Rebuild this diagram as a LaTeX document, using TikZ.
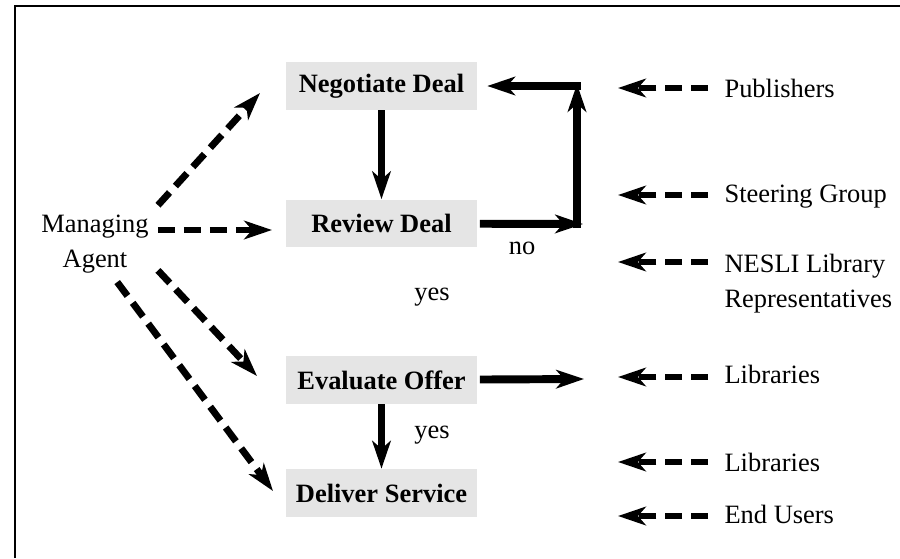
\documentclass[tikz,border=0pt]{standalone}
\usepackage{fontspec}
\setmainfont{Liberation Serif}
\usetikzlibrary{arrows.meta}

\tikzset{
  flow/.style={line width=3pt, -{Stealth[length=10.5pt,width=7pt,inset=3pt]}},
  feed/.style={line width=2.6pt, dash pattern=on 6.5pt off 3.3pt, -{Stealth[length=10.5pt,width=7pt,inset=3pt]}},
  back/.style={feed, shorten <=6pt},
  task/.style={fill=black!10, minimum width=72pt, minimum height=18pt, font=\bfseries},
  party/.style={anchor=base west, inner sep=0pt},
}

\begin{document}
\begin{tikzpicture}[x=0.378pt,y=-0.378pt]
\useasboundingbox (0,0) rectangle (900,558);
%\draw[step=50,gray,very thin] (0,0) grid (900,558); %background grid

\draw[line width=1.1pt] (15,558)--(15,6)--(900,6);

% tasks
\node[task] (negotiate) at (381.5,86) {Negotiate Deal};
\node[task] (review) at (381.5,223.5) {Review Deal};
\node[task] (evaluate) at (381.5,380) {Evaluate Offer};
\node[task] (deliver) at (381.5,493) {Deliver Service};

\node[align=center, anchor=base] (agent) at (95,267) {Managing\\[1.2pt]Agent};

\node[] (no) at (522,248) {no};
\node[] (yes1) at (432,297) {yes};
\node[] (yes2) at (432,435) {yes};

% parties
\node[party] (pub) at (724,97) {Publishers};
\node[party] (steer) at (724,202) {Steering Group};
\node[party, align=left] (nesli) at (724,307) {NESLI Library\\[1.2pt]Representatives};
\node[party] (libs) at (724,383) {Libraries};
\node[party] (libs2) at (724,471) {Libraries};
\node[party] (endusers) at (724,523) {End Users};

% flow
\coordinate (loopR) at (583,224);
\coordinate (loopB) at (577,228);
\coordinate (loopT) at (577,84);
\coordinate (loopH) at (581,86);
\coordinate (evalOut) at (584,379);

\draw[flow] (negotiate) -- (review);
\draw[flow, shorten <=1pt] (review) -- (loopR);
\draw[flow] (loopB) -- (loopT);
\draw[flow, shorten >=3.8pt] (loopH) -- (negotiate.east);
\draw[flow, shorten <=1pt] (evaluate) -- (evalOut);
\draw[flow] (evaluate) -- (deliver);

% managing agent
\coordinate (toNeg) at (260,93);
\coordinate (toRev) at (272,230);
\coordinate (toEval) at (257,376);
\coordinate (toDel) at (273,491);

\draw[feed] (agent.north east) -- (toNeg);
\draw[feed] (agent.east |- toRev) -- (toRev);
\draw[feed] (agent.-23) -- (toEval);
\draw[feed] (agent.-60) -- (toDel);

% inputs
\coordinate (pubTip) at (618,88);
\coordinate (steerTip) at (618,195);
\coordinate (nesliTip) at (618,262);
\coordinate (libsTip) at (618,377);
\coordinate (libs2Tip) at (618,462);
\coordinate (endTip) at (618,516);

\draw[back] (pub.west |- pubTip) -- (pubTip);
\draw[back] (steer.west |- steerTip) -- (steerTip);
\draw[back] (nesli.west |- nesliTip) -- (nesliTip);
\draw[back] (libs.west |- libsTip) -- (libsTip);
\draw[back] (libs2.west |- libs2Tip) -- (libs2Tip);
\draw[back] (endusers.west |- endTip) -- (endTip);

\end{tikzpicture}
\end{document}
